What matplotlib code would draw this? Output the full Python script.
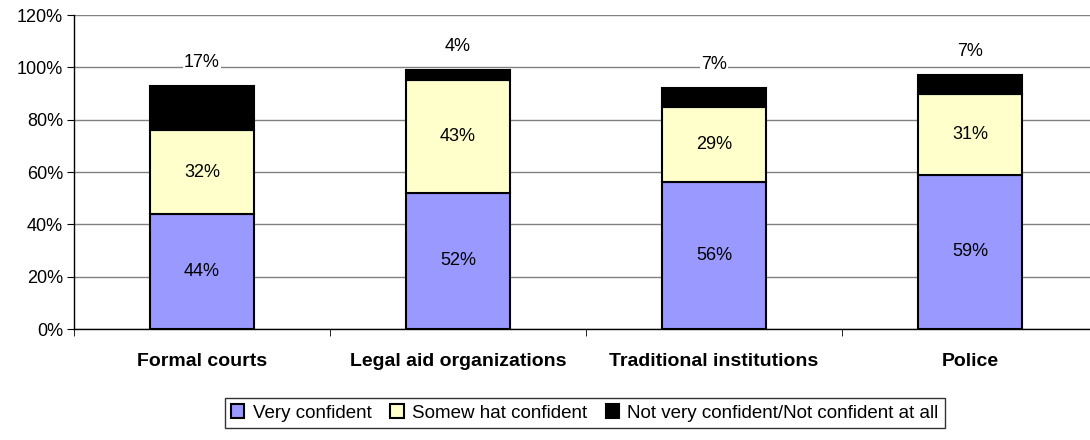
import matplotlib.pyplot as plt
import numpy as np

plt.rcParams['font.family'] = ['Liberation Sans', 'DejaVu Sans']

categories = ['Formal courts', 'Legal aid organizations', 'Traditional institutions', 'Police']
very = [44, 52, 56, 59]
somewhat = [32, 43, 29, 31]
not_conf = [17, 4, 7, 7]
series_names = ['Very confident', 'Somew hat confident', 'Not very confident/Not confident at all']
colors = ['#9999FF', '#FFFFCC', '#000000']

fig = plt.figure(figsize=(10.9, 4.4), dpi=100)
ax = fig.add_axes([74 / 1090, 1 - 329 / 440, 1024 / 1090, 314 / 440])

x = np.arange(len(categories))
w = 0.406
very = np.array(very)
somewhat = np.array(somewhat)
not_conf = np.array(not_conf)

ax.bar(x, very, w, color=colors[0], edgecolor='black', linewidth=1.5, label=series_names[0], zorder=3)
ax.bar(x, somewhat, w, bottom=very, color=colors[1], edgecolor='black', linewidth=1.5, label=series_names[1], zorder=3)
ax.bar(x, not_conf, w, bottom=very + somewhat, color=colors[2], edgecolor='black', linewidth=1.5, label=series_names[2], zorder=3)

fs = 13
for i in range(len(categories)):
    ax.text(x[i], very[i] / 2, f'{very[i]}%', ha='center', va='center', fontsize=fs, zorder=4)
    ax.text(x[i], very[i] + somewhat[i] / 2, f'{somewhat[i]}%', ha='center', va='center', fontsize=fs, zorder=4)
    top = very[i] + somewhat[i] + not_conf[i]
    ax.annotate(f'{not_conf[i]}%', (x[i], top), xytext=(0, 17), textcoords='offset points',
                ha='center', va='center', fontsize=fs, zorder=4,
                bbox=dict(facecolor='white', edgecolor='none', pad=1))

ax.set_ylim(0, 120)
ax.set_xlim(-0.5, len(categories) - 0.5)
ax.set_yticks(range(0, 121, 20))
ax.set_yticklabels([f'{v}%' for v in range(0, 121, 20)], fontsize=fs)
ax.yaxis.grid(True, color='#808080', linewidth=1, zorder=0)

ax.set_xticks(x)
ax.set_xticklabels(categories, fontsize=14, fontweight='bold')
ax.tick_params(axis='x', length=0, pad=17)
ax.set_xticks(np.arange(-0.5, len(categories), 1), minor=True)
ax.tick_params(axis='x', which='minor', length=5, direction='out')
ax.tick_params(axis='y', length=5, direction='out', pad=3)

ax.spines['top'].set_visible(False)
ax.spines['right'].set_visible(False)
ax.spines['left'].set_linewidth(1)
ax.spines['bottom'].set_linewidth(1)

leg = fig.legend(loc='center', bbox_to_anchor=(585 / 1090, 1 - 413 / 440), ncol=3, fontsize=13.5,
                 frameon=True, fancybox=False, edgecolor='black', handlelength=0.7, handleheight=0.7,
                 handletextpad=0.45, columnspacing=1.0, borderpad=0.35, borderaxespad=0)
leg.get_frame().set_linewidth(1)

fig.savefig('out.png', dpi=100)
